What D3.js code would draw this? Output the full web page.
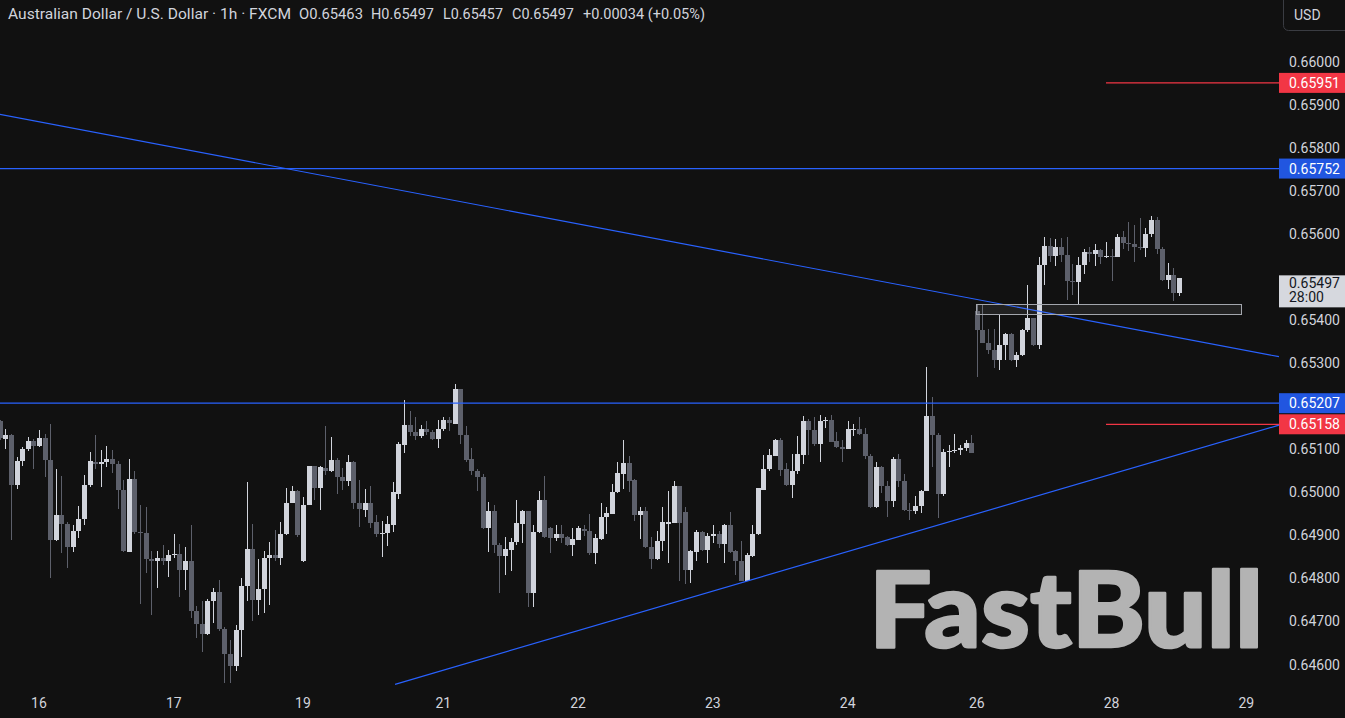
<!DOCTYPE html>
<html><head><meta charset="utf-8">
<script src="https://cdn.jsdelivr.net/npm/d3@7"></script>
<style>html,body{margin:0;padding:0;background:#111111;overflow:hidden}</style>
</head><body>
<svg id="chart" width="1345" height="718"></svg>
<script>
// ---- data (AUD/USD 1h candles) ----
const opens = [0.65166,0.65124,0.65134,0.65016,0.65072,0.65101,0.65120,0.65107,0.65127,0.65076,
0.64889,0.64948,0.64927,0.64872,0.64909,0.64937,0.65018,0.65070,0.65066,0.65071,
0.65077,0.65066,0.65005,0.64862,0.65032,0.64907,0.64905,0.64845,0.64840,0.64848,
0.64840,0.64855,0.64857,0.64819,0.64841,0.64724,0.64694,0.64670,0.64747,0.64769,
0.64683,0.64625,0.64596,0.64679,0.64782,0.64869,0.64749,0.64776,0.64848,0.64855,
0.64847,0.64902,0.64975,0.65004,0.64840,0.64971,0.65060,0.65010,0.65057,0.65049,
0.65074,0.65035,0.65026,0.65071,0.64975,0.64960,0.64974,0.64930,0.64902,0.64906,
0.64925,0.64997,0.65111,0.65157,0.65140,0.65130,0.65148,0.65139,0.65124,0.65147,
0.65169,0.65159,0.65241,0.65134,0.65078,0.65050,0.65036,0.64916,0.64956,0.64878,
0.64853,0.64867,0.64885,0.64927,0.64956,0.64766,0.64907,0.64983,0.64917,0.64895,
0.64904,0.64896,0.64877,0.64890,0.64915,0.64909,0.64858,0.64892,0.64942,0.64950,
0.65000,0.65043,0.65067,0.65029,0.64948,0.64957,0.64872,0.64844,0.64886,0.64927,
0.64929,0.65014,0.64954,0.64820,0.64861,0.64907,0.64865,0.64898,0.64903,0.64881,
0.64925,0.64863,0.64841,0.64795,0.64853,0.64902,0.65006,0.65053,0.65085,0.65121,
0.65053,0.65016,0.65049,0.65087,0.65166,0.65145,0.65113,0.65165,0.65169,0.65120,
0.65105,0.65101,0.65146,0.65147,0.65136,0.65085,0.64965,0.65058,0.65015,0.64979,
0.65078,0.65027,0.64958,0.64956,0.64969,0.65004,0.65178,0.65132,0.64995,0.65093,
0.65095,0.65098,0.65103,0.65115,0.65420,0.65376,0.65347,0.65331,0.65307,0.65343,
0.65368,0.65307,0.65320,0.65376,0.65405,0.65341,0.65529,0.65573,0.65550,0.65570,
0.65552,0.65491,0.65489,0.65529,0.65558,0.65553,0.65563,0.65546,0.65549,0.65547,
0.65593,0.65579,0.65576,0.65569,0.65567,0.65600,0.65633,0.65566,0.65492,0.65504,
0.65463];
const highs = [0.65169,0.65148,0.65135,0.65081,0.65105,0.65128,0.65124,0.65145,0.65136,0.65159,
0.65053,0.65039,0.64932,0.64923,0.64968,0.65041,0.65093,0.65132,0.65099,0.65108,
0.65099,0.65072,0.65029,0.65077,0.65050,0.64971,0.64965,0.64863,0.64863,0.64877,
0.64865,0.64902,0.64881,0.64872,0.64923,0.64735,0.64747,0.64751,0.64778,0.64797,
0.64686,0.64658,0.64692,0.64801,0.65024,0.64926,0.64844,0.64863,0.64885,0.64913,
0.64931,0.65010,0.65015,0.65005,0.64989,0.65062,0.65062,0.65060,0.65153,0.65128,
0.65080,0.65057,0.65087,0.65072,0.65029,0.65008,0.65015,0.64948,0.64933,0.64944,
0.65023,0.65116,0.65215,0.65190,0.65176,0.65157,0.65166,0.65145,0.65169,0.65174,
0.65176,0.65252,0.65241,0.65153,0.65103,0.65054,0.65043,0.64977,0.64971,0.64882,
0.64896,0.64894,0.64981,0.64960,0.64957,0.64923,0.65002,0.65039,0.64919,0.64925,
0.64925,0.64898,0.64916,0.64921,0.64925,0.64950,0.64902,0.64974,0.64966,0.65020,
0.65070,0.65122,0.65084,0.65031,0.64967,0.64966,0.64896,0.64911,0.64965,0.65002,
0.65026,0.65015,0.64965,0.64867,0.64913,0.64909,0.64906,0.64925,0.64911,0.64926,
0.64954,0.64865,0.64888,0.64859,0.64925,0.65010,0.65087,0.65101,0.65124,0.65126,
0.65067,0.65089,0.65130,0.65178,0.65170,0.65176,0.65180,0.65176,0.65179,0.65139,
0.65122,0.65165,0.65159,0.65174,0.65149,0.65088,0.65070,0.65060,0.65026,0.65081,
0.65089,0.65043,0.64974,0.64991,0.65006,0.65291,0.65221,0.65138,0.65101,0.65111,
0.65136,0.65111,0.65121,0.65134,0.65437,0.65437,0.65380,0.65380,0.65413,0.65370,
0.65370,0.65327,0.65380,0.65482,0.65406,0.65546,0.65592,0.65591,0.65589,0.65591,
0.65593,0.65530,0.65546,0.65565,0.65569,0.65577,0.65565,0.65581,0.65566,0.65600,
0.65608,0.65628,0.65620,0.65637,0.65614,0.65642,0.65639,0.65569,0.65533,0.65522,
0.65497];
const lows = [0.65122,0.65101,0.64889,0.65008,0.65060,0.65096,0.65055,0.65105,0.65035,0.64800,
0.64888,0.64859,0.64824,0.64861,0.64893,0.64925,0.65012,0.65053,0.65012,0.65059,
0.65045,0.64961,0.64862,0.64861,0.64902,0.64741,0.64813,0.64716,0.64778,0.64832,
0.64803,0.64848,0.64757,0.64774,0.64708,0.64662,0.64629,0.64669,0.64697,0.64677,
0.64557,0.64557,0.64584,0.64617,0.64747,0.64700,0.64714,0.64720,0.64738,0.64840,
0.64830,0.64901,0.64974,0.64896,0.64839,0.64970,0.64981,0.64960,0.65041,0.65048,
0.64997,0.65005,0.65015,0.64961,0.64919,0.64942,0.64917,0.64896,0.64849,0.64875,
0.64907,0.64985,0.65091,0.65130,0.65122,0.65125,0.65132,0.65121,0.65104,0.65142,
0.65142,0.65159,0.65113,0.65070,0.65040,0.65002,0.64915,0.64861,0.64859,0.64765,
0.64807,0.64817,0.64878,0.64882,0.64733,0.64733,0.64905,0.64895,0.64859,0.64886,
0.64882,0.64875,0.64851,0.64889,0.64898,0.64855,0.64834,0.64889,0.64902,0.64950,
0.64999,0.65008,0.65000,0.64933,0.64892,0.64871,0.64822,0.64842,0.64863,0.64836,
0.64928,0.64795,0.64787,0.64789,0.64840,0.64863,0.64836,0.64882,0.64871,0.64836,
0.64860,0.64809,0.64793,0.64793,0.64850,0.64901,0.65005,0.65050,0.65084,0.65037,
0.65015,0.64987,0.65043,0.65066,0.65086,0.65107,0.65070,0.65149,0.65117,0.65104,
0.65070,0.65100,0.65130,0.65132,0.65077,0.64964,0.64964,0.64998,0.64942,0.64967,
0.65012,0.64957,0.64935,0.64950,0.64952,0.65002,0.65058,0.64940,0.64992,0.65059,
0.65091,0.65087,0.65095,0.65091,0.65267,0.65346,0.65322,0.65289,0.65283,0.65308,
0.65306,0.65290,0.65316,0.65373,0.65339,0.65334,0.65481,0.65536,0.65525,0.65536,
0.65447,0.65459,0.65436,0.65508,0.65536,0.65525,0.65530,0.65545,0.65490,0.65546,
0.65565,0.65560,0.65536,0.65563,0.65546,0.65593,0.65553,0.65490,0.65473,0.65444,
0.65457];
const closes = [0.65126,0.65134,0.65016,0.65072,0.65101,0.65120,0.65107,0.65127,0.65076,0.64889,
0.64948,0.64927,0.64872,0.64909,0.64937,0.65018,0.65072,0.65066,0.65071,0.65077,
0.65066,0.65005,0.64863,0.65032,0.64907,0.64905,0.64845,0.64840,0.64848,0.64840,
0.64855,0.64857,0.64819,0.64841,0.64724,0.64694,0.64670,0.64747,0.64769,0.64683,
0.64625,0.64596,0.64679,0.64782,0.64869,0.64749,0.64776,0.64848,0.64855,0.64847,
0.64902,0.64975,0.65004,0.64901,0.64971,0.65060,0.65010,0.65058,0.65049,0.65074,
0.65035,0.65026,0.65071,0.64974,0.64961,0.64974,0.64929,0.64902,0.64906,0.64927,
0.65000,0.65113,0.65157,0.65140,0.65130,0.65148,0.65139,0.65124,0.65148,0.65169,
0.65161,0.65241,0.65132,0.65076,0.65050,0.65035,0.64916,0.64956,0.64878,0.64853,
0.64869,0.64885,0.64929,0.64956,0.64766,0.64908,0.64983,0.64896,0.64895,0.64904,
0.64895,0.64877,0.64892,0.64916,0.64909,0.64858,0.64894,0.64943,0.64952,0.65001,
0.65045,0.65067,0.65027,0.64948,0.64957,0.64872,0.64844,0.64888,0.64930,0.64932,
0.65014,0.64929,0.64820,0.64863,0.64907,0.64865,0.64899,0.64903,0.64881,0.64925,
0.64861,0.64840,0.64795,0.64855,0.64904,0.65009,0.65053,0.65087,0.65121,0.65051,
0.65016,0.65050,0.65089,0.65166,0.65145,0.65113,0.65166,0.65169,0.65118,0.65105,
0.65101,0.65147,0.65148,0.65136,0.65085,0.64965,0.65058,0.65015,0.64979,0.65078,
0.65027,0.64958,0.64956,0.64969,0.65004,0.65178,0.65132,0.64995,0.65094,0.65095,
0.65098,0.65103,0.65115,0.65091,0.65376,0.65347,0.65331,0.65307,0.65343,0.65368,
0.65307,0.65320,0.65376,0.65405,0.65341,0.65529,0.65573,0.65550,0.65570,0.65552,
0.65491,0.65489,0.65529,0.65558,0.65553,0.65563,0.65546,0.65549,0.65547,0.65593,
0.65579,0.65576,0.65569,0.65567,0.65600,0.65633,0.65566,0.65492,0.65504,0.65463,
0.65497];

const dayLabels = ["16","17","19","21","22","23","24","26","28","29"];
const dayIndex  = [7,31,54,79,103,127,151,174,198,222];
const priceTicks = [0.646,0.647,0.648,0.649,0.650,0.651,0.652,0.653,0.654,0.655,0.656,0.657,0.658,0.659,0.660];

const blueLevels = [0.65752, 0.65207];
const redLevels  = [0.65951, 0.65158];
const redLevelStart = 197;               // candle index where red rays begin
const trendStartIdx = [0, 70.4];
const trendStartPx  = [0.65878, 0.64554];
const trendEndIdx   = [227.8, 227.8];
const trendEndPx    = [0.65315, 0.65156];
const zoneIdx   = [174, 221];
const zonePrice = [0.65415, 0.65438];

const headerParts = ["Australian Dollar / U.S. Dollar · 1h · FXCM","O0.65463","H0.65497","L0.65457","C0.65497","+0.00034 (+0.05%)"];
const lastPrice = 0.65497;
const countdown = "28:00";

// ---- drawing ----
const W = 1345, H = 718, PLOT_R = 1279;
const svg = d3.select("#chart");
svg.append("rect").attr("width",W).attr("height",H).attr("fill","#111111");

const x = d3.scaleLinear().domain([0,210]).range([-0.32,1179.0]);
const y = d3.scaleLinear().domain([0.646,0.660]).range([664.5,61.8]);

const BULL="#d1d4dc", BEAR="#5d606b", BLUE="#2962ff", RED="#f23645", TXT="#d1d4dc";

const plot = svg.append("g");
// candles
const idx = d3.range(opens.length);
const cg = plot.append("g").attr("shape-rendering","crispEdges");
idx.forEach(i=>{
  const o=opens[i], h=highs[i], l=lows[i], c=closes[i];
  const col = c>=o?BULL:BEAR;
  const cx = Math.round(x(i));
  const yh = Math.round(y(h)), yl = Math.round(y(l));
  cg.append("rect").attr("x",cx).attr("width",1).attr("y",yh).attr("height",Math.max(1,yl-yh)).attr("fill",col);
  const bt = Math.round(y(Math.max(o,c))), bb = Math.round(y(Math.min(o,c)));
  cg.append("rect").attr("x",cx-2).attr("width",5).attr("y",bt).attr("height",Math.max(1,bb-bt)).attr("fill",col);
});

// horizontal levels
const lg = plot.append("g");
blueLevels.forEach(p=>{
  const yy = y(p);
  lg.append("line").attr("x1",0).attr("x2",PLOT_R).attr("y1",yy).attr("y2",yy).attr("stroke",BLUE).attr("stroke-width",1.3);
});
redLevels.forEach(p=>{
  const yy = y(p);
  lg.append("line").attr("x1",x(redLevelStart)).attr("x2",PLOT_R).attr("y1",yy).attr("y2",yy).attr("stroke",RED).attr("stroke-width",1.3);
});
// trend lines
trendStartIdx.forEach((s,k)=>{
  lg.append("line").attr("x1",x(s)).attr("y1",y(trendStartPx[k])).attr("x2",x(trendEndIdx[k])).attr("y2",y(trendEndPx[k]))
    .attr("stroke",BLUE).attr("stroke-width",1.2);
});
// zone box
{
  const x0 = Math.round(x(zoneIdx[0]))-0.5, x1 = Math.round(x(zoneIdx[1]))+0.5;
  const y0 = Math.round(y(zonePrice[1]))+0.5, y1 = Math.round(y(zonePrice[0]))+0.5;
  lg.append("rect").attr("x",x0).attr("y",y0).attr("width",x1-x0).attr("height",y1-y0)
    .attr("fill","rgba(255,255,255,0.07)").attr("stroke","#a3a6ad").attr("stroke-width",1);
}

// watermark
svg.append("text").attr("x",869).attr("y",647).text("FastBull")
  .attr("font-family","Lato, 'Open Sans', sans-serif").attr("font-weight",900).attr("font-size",104)
  .attr("fill","#b3b3b3").attr("stroke","#b3b3b3").attr("stroke-width",2.5).attr("stroke-linejoin","round")
  .attr("textLength",394).attr("lengthAdjust","spacingAndGlyphs");

// right price axis
const font = "Roboto, 'Noto Sans', sans-serif";
const ax = svg.append("g");
const tagPrices = blueLevels.concat(redLevels, [lastPrice]);
priceTicks.filter(p=>tagPrices.every(t=>Math.abs(y(t)-y(p))>12 || (t===lastPrice && y(p)-y(t)>30)))
  .forEach(p=>{
  ax.append("text").attr("x",1289).attr("y",y(p)).attr("dominant-baseline","central")
    .attr("font-family",font).attr("font-size",14).attr("fill",TXT).text(p.toFixed(5));
});
function priceTag(p,bg,fg){
  const yy = y(p);
  ax.append("rect").attr("x",1279).attr("y",yy-10).attr("width",66).attr("height",20).attr("fill",bg);
  ax.append("text").attr("x",1289).attr("y",yy).attr("dominant-baseline","central")
    .attr("font-family",font).attr("font-size",14).attr("fill",fg).text(p.toFixed(5));
}
redLevels.forEach(p=>priceTag(p,RED,"#ffffff"));
blueLevels.forEach(p=>priceTag(p,"#2156e0","#ffffff"));
// current price tag
{
  const yy = y(lastPrice);
  ax.append("rect").attr("x",1279).attr("y",yy-3).attr("width",66).attr("height",32).attr("fill","#d6d8de");
  ax.append("text").attr("x",1289).attr("y",yy+4.5).attr("dominant-baseline","central")
    .attr("font-family",font).attr("font-size",14).attr("fill","#131722").text(lastPrice.toFixed(5));
  ax.append("text").attr("x",1289).attr("y",yy+19).attr("dominant-baseline","central")
    .attr("font-family",font).attr("font-size",14).attr("fill","#131722").text(countdown);
}
// USD button
svg.append("rect").attr("x",1283.5).attr("y",-6).attr("width",70).attr("height",36.5).attr("rx",5)
  .attr("fill","none").attr("stroke","#3a3c42").attr("stroke-width",1);
svg.append("text").attr("x",1294).attr("y",15).attr("dominant-baseline","central")
  .attr("font-family",font).attr("font-size",14).attr("fill",TXT).text("USD");

// bottom time axis
dayLabels.forEach((d,k)=>{
  svg.append("text").attr("x",x(dayIndex[k])).attr("y",703).attr("text-anchor","middle").attr("dominant-baseline","central")
    .attr("font-family",font).attr("font-size",14).attr("fill",TXT).text(d);
});

// header
const hx = [8,299,371,443,512,583], hw = [283,64,63,60,62,122];
headerParts.forEach((t,k)=>{
  svg.append("text").attr("x",hx[k]).attr("y",14).attr("dominant-baseline","central")
    .attr("font-family",font).attr("font-size",14).attr("fill",TXT)
    .attr("textLength",hw[k]).attr("lengthAdjust","spacingAndGlyphs").text(t);
});
</script>
</body></html>
